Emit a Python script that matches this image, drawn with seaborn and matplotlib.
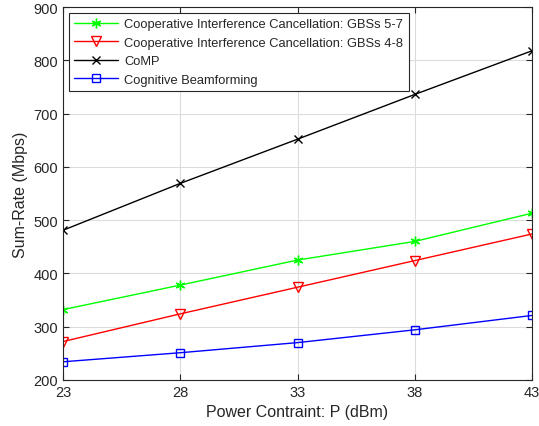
import matplotlib
matplotlib.use("Agg")
import matplotlib.pyplot as plt
import seaborn as sns
import pandas as pd

power = [23, 28, 33, 38, 43]
cic_5_7 = [332, 378, 425, 460, 513]
cic_4_8 = [272, 324, 374, 424, 474]
comp = [481, 569, 652, 736, 818]
cognitive_bf = [234, 251, 270, 294, 321]

labels = [
    "Cooperative Interference Cancellation: GBSs 5-7",
    "Cooperative Interference Cancellation: GBSs 4-8",
    "CoMP",
    "Cognitive Beamforming",
]
series = [cic_5_7, cic_4_8, comp, cognitive_bf]
colors = ["#00ff00", "#ff0000", "#000000", "#0000ff"]
# matlab-ish markers: asterisk, down triangle, x, square
markers = [(6, 2, 0), "v", "x", "s"]
sizes = [7, 7, 6, 5.5]

rows = []
for lab, vals in zip(labels, series):
    for p, v in zip(power, vals):
        rows.append({"P": p, "rate": v, "scheme": lab})
df = pd.DataFrame(rows)

sns.set_theme(style="whitegrid")
plt.rcParams["font.family"] = ["Liberation Sans", "DejaVu Sans"]

fig = plt.figure(figsize=(5.39, 4.27), dpi=100)
ax = fig.add_axes([0.117, 0.108, 0.870, 0.873])

for lab, col, mk, ms in zip(labels, colors, markers, sizes):
    sub = df[df["scheme"] == lab]
    sns.lineplot(
        data=sub, x="P", y="rate", ax=ax, color=col, marker=mk,
        markersize=ms, markerfacecolor="none",
        markeredgecolor=col, markeredgewidth=1.0, linewidth=1.0, label=lab)

ax.set_xlim(23, 43)
ax.set_ylim(200, 900)
ax.set_xticks(power)
ax.set_yticks(range(200, 901, 100))
ax.grid(True, color="#dcdcdc", linewidth=0.8)
for s in ax.spines.values():
    s.set_color("#262626")
    s.set_linewidth(0.8)
ax.tick_params(direction="in", length=4, width=0.8, colors="#262626",
               labelsize=10.5, top=True, right=True, bottom=True, left=True)
ax.set_xlabel("Power Contraint: P (dBm)", fontsize=11.5, color="#262626")
ax.set_ylabel("Sum-Rate (Mbps)", fontsize=11.5, color="#262626")

leg = ax.legend(loc="upper left", fontsize=9.3, frameon=True, fancybox=False,
                handlelength=3.4, borderaxespad=0.45, labelspacing=0.5,
                borderpad=0.4, handletextpad=0.5)
leg.get_frame().set_edgecolor("#262626")
leg.get_frame().set_linewidth(0.8)
leg.get_frame().set_alpha(1)

fig.savefig("out.png", dpi=100)
